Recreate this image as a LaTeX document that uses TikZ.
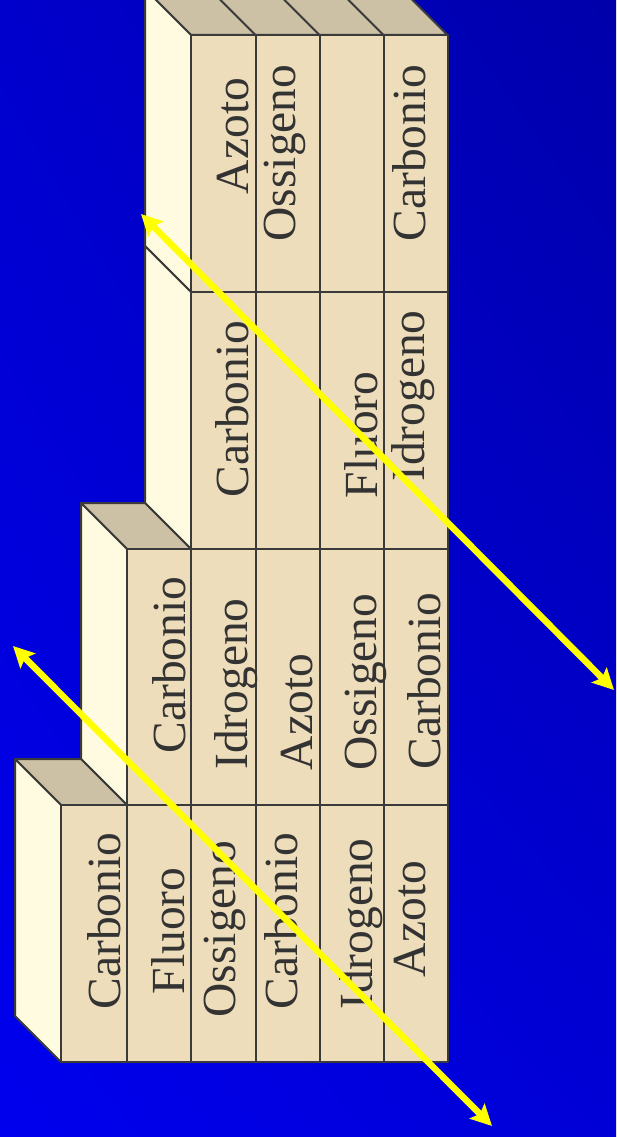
\documentclass[tikz,border=0pt]{standalone}
\usepackage{fontspec}
\setmainfont{Liberation Serif}
\usetikzlibrary{arrows.meta,shadings}
\definecolor{bgUL}{HTML}{0000CC}
\definecolor{bgUR}{HTML}{0000AA}
\definecolor{bgLL}{HTML}{0000EE}
\definecolor{bgLR}{HTML}{0000D6}
\definecolor{parch}{HTML}{EEDDBA}
\definecolor{creamside}{HTML}{FFFBE1}
\definecolor{tantop}{HTML}{CCC0A5}
\definecolor{edgecol}{HTML}{3A3A3A}
\definecolor{txtcol}{HTML}{333333}
\definecolor{arrowyellow}{HTML}{FFFF00}
\begin{document}
\begin{tikzpicture}[x=1pt,y=-1pt,
  frontface/.style={fill=parch, draw=edgecol, line width=2pt, line join=round},
  sideface/.style={fill=creamside, draw=edgecol, line width=2pt, line join=round},
  topface/.style={fill=tantop, draw=edgecol, line width=2pt, line join=round},
  divider/.style={draw=edgecol, line width=2pt},
  lbl/.style={rotate=90, anchor=base, inner sep=0pt, text=txtcol, font=\fontsize{47.5}{50}\selectfont},
  yarrow/.style={draw=arrowyellow, line width=6.5pt,
    {Stealth[length=21pt,width=21pt,inset=4pt]}-{Stealth[length=21pt,width=21pt,inset=4pt]}}
]
\useasboundingbox (0,0) rectangle (616,1137);
\shade[upper left=bgUL, upper right=bgUR, lower left=bgLL, lower right=bgLR] (0,0) rectangle (616,1137);

\def\cA{61}\def\cB{127}\def\cC{191}\def\cD{255.5}\def\cE{319.5}\def\cF{383.5}\def\cG{447.5}
\def\rA{35}\def\rB{292}\def\rC{549}\def\rD{805}\def\rE{1062}
\def\dd{46}

% ---- block D (top) ----
\fill[tantop] (\cC,\rA) -- (\cG,\rA) -- (\cG-\dd,\rA-\dd) -- (\cC-\dd,\rA-\dd) -- cycle;
\draw[divider] (\cC-\dd,\rA-\dd) -- (\cC,\rA) -- (\cG,\rA) -- (\cG-\dd,\rA-\dd);
\foreach \c in {\cD,\cE,\cF} \draw[divider] (\c,\rA) -- (\c-\dd,\rA-\dd);
\draw[sideface] (\cC-\dd,\rA-\dd) -- (\cC,\rA) -- (\cC,\rB) -- (\cC-\dd,\rB-\dd) -- cycle;
\draw[frontface] (\cC,\rA) rectangle (\cG,\rB);
\foreach \c in {\cD,\cE,\cF} \draw[divider] (\c,\rA) -- (\c,\rB);

% ---- block C ----
\draw[sideface] (\cC-\dd,\rB-\dd) -- (\cC,\rB) -- (\cC,\rC) -- (\cC-\dd,\rC-\dd) -- cycle;
\draw[frontface] (\cC,\rB) rectangle (\cG,\rC);
\foreach \c in {\cD,\cE,\cF} \draw[divider] (\c,\rB) -- (\c,\rC);

% ---- block B ----
\draw[topface] (\cB,\rC) -- (\cC,\rC) -- (\cC-\dd,\rC-\dd) -- (\cB-\dd,\rC-\dd) -- cycle;
\draw[sideface] (\cB-\dd,\rC-\dd) -- (\cB,\rC) -- (\cB,\rD) -- (\cB-\dd,\rD-\dd) -- cycle;
\draw[frontface] (\cB,\rC) rectangle (\cG,\rD);
\foreach \c in {\cC,\cD,\cE,\cF} \draw[divider] (\c,\rC) -- (\c,\rD);

% ---- block A (bottom) ----
\draw[topface] (\cA,\rD) -- (\cB,\rD) -- (\cB-\dd,\rD-\dd) -- (\cA-\dd,\rD-\dd) -- cycle;
\draw[sideface] (\cA-\dd,\rD-\dd) -- (\cA,\rD) -- (\cA,\rE) -- (\cA-\dd,\rE-\dd) -- cycle;
\draw[frontface] (\cA,\rD) rectangle (\cG,\rE);
\foreach \c in {\cB,\cC,\cD,\cE,\cF} \draw[divider] (\c,\rD) -- (\c,\rE);

% ---- labels ----
% block A
\node[lbl] (a1) at (120,921) {Carbonio};
\node[lbl] (a2) at (184,931) {Fluoro};
\node[lbl] (a3) at (235.5,929) {Ossigeno};
\node[lbl] (a4) at (297,921) {Carbonio};
\node[lbl] (a5) at (372,924) {Idrogeno};
\node[lbl] (a6) at (425,919) {Azoto};
% block B
\node[lbl] (b1) at (185,665) {Carbonio};
\node[lbl] (b2) at (247,684) {Idrogeno};
\node[lbl] (b3) at (312,712) {Azoto};
\node[lbl] (b4) at (376,682) {Ossigeno};
\node[lbl] (b5) at (440,681) {Carbonio};
% block C
\node[lbl] (c1) at (248,409) {Carbonio};
\node[lbl] (c2) at (377,435) {Fluoro};
\node[lbl] (c3) at (424,396) {Idrogeno};
% block D
\node[lbl] (d1) at (248,136) {Azoto};
\node[lbl] (d2) at (295,153) {Ossigeno};
\node[lbl] (d3) at (425,153) {Carbonio};

% ---- arrows ----
\coordinate (p1s) at (141,214);
\coordinate (p1e) at (614,690);
\coordinate (p2s) at (13,646);
\coordinate (p2e) at (492,1126);
\draw[yarrow] (p1s) -- (p1e);
\draw[yarrow] (p2s) -- (p2e);
\end{tikzpicture}
\end{document}
